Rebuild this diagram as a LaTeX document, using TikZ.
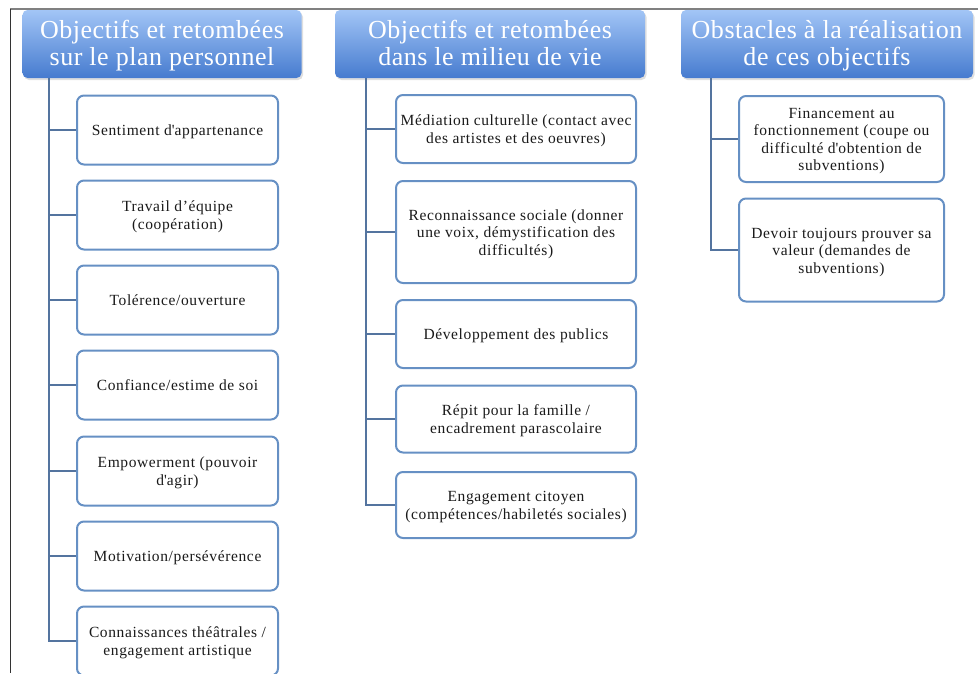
\documentclass[tikz,border=0pt]{standalone}
\usepackage{fontspec}
\setmainfont{Liberation Serif}
\newfontfamily\hdfont[LetterSpace=2]{Liberation Serif}
\newfontfamily\bxfont[LetterSpace=4]{Liberation Serif}
\usetikzlibrary{shadows}
\definecolor{hdtop}{HTML}{A2C5F6}
\definecolor{hdbot}{HTML}{467BCF}
\definecolor{boxline}{HTML}{6690C4}
\definecolor{conn}{HTML}{54749F}
\definecolor{txt}{HTML}{1A1A1A}
\newcommand{\apos}{\textquotesingle}
\newcommand{\cellt}[1]{\raisebox{0pt}[\dimexpr\height+4pt\relax][\depth]{\begin{tabular}{@{}c@{}}#1\end{tabular}}}
\newcommand{\hcell}[1]{\raisebox{0pt}[\dimexpr\height+6pt\relax][\depth]{\begin{tabular}{@{}c@{}}#1\end{tabular}}}
\tikzset{
 header/.style={rectangle, rounded corners=5pt, top color=hdtop, bottom color=hdbot, text=white,
   font=\hdfont\fontsize{26}{27}\selectfont, inner sep=0pt,
   drop shadow={opacity=0.25, shadow xshift=1.5pt, shadow yshift=-2pt}},
 item/.style={rectangle, rounded corners=7pt, draw=boxline, line width=2pt, fill=white, text=txt,
   font=\bxfont\fontsize{15.5}{17.5}\selectfont, inner sep=0pt},
 link/.style={draw=conn, line width=2pt},
}
\begin{document}
\begin{tikzpicture}[x=1pt,y=-1pt]
\useasboundingbox (0,0) rectangle (978,673);
\draw[gray, line width=1.5pt] (10,9) -- (978,9);
\draw[black!80, line width=0.8pt] (10,9) -- (10,673);

% headers
\node[header, minimum width=279pt, minimum height=68pt] (h1) at (162,44) {\hcell{Objectifs et retombées\\sur le plan personnel}};
\node[header, minimum width=310pt, minimum height=68pt] (h2) at (490,44) {\hcell{Objectifs et retombées\\dans le milieu de vie}};
\node[header, minimum width=292pt, minimum height=68pt] (h3) at (827,44) {\hcell{Obstacles à la réalisation\\de ces objectifs}};

\coordinate (t1) at (49,78);
\coordinate (t2) at (366,78);
\coordinate (t3) at (711,78);

% column 1
\foreach \n/\y/\t in {a1/130/{Sentiment d\apos appartenance},
                      a2/215/{Travail d’équipe\\(coopération)},
                      a3/300/{Tolérence/ouverture},
                      a4/385/{Confiance/estime de soi},
                      a5/471/{Empowerment (pouvoir\\d\apos agir)},
                      a6/556/{Motivation/persévérence},
                      a7/641/{Connaissances théâtrales /\\engagement artistique}}{
  \node[item, minimum width=201pt, minimum height=69pt] (\n) at (177.5,\y) {\cellt{\t}};
  \draw[link] (t1) |- (\n.west);
}

% column 2
\node[item, minimum width=240pt, minimum height=68pt] (b1) at (516,129) {\cellt{Médiation culturelle (contact avec\\des artistes et des oeuvres)}};
\node[item, minimum width=240pt, minimum height=102pt] (b2) at (516,232) {\cellt{Reconnaissance sociale (donner\\une voix, démystification des\\difficultés)}};
\node[item, minimum width=240pt, minimum height=68pt] (b3) at (516,334) {\cellt{Développement des publics}};
\node[item, minimum width=240pt, minimum height=67pt] (b4) at (516,419) {\cellt{Répit pour la famille /\\encadrement parascolaire}};
\node[item, minimum width=240pt, minimum height=66pt] (b5) at (516,505) {\cellt{Engagement citoyen\\(compétences/habiletés sociales)}};
\foreach \n in {b1,b2,b3,b4,b5}{\draw[link] (t2) |- (\n.west);}

% column 3
\node[item, minimum width=205pt, minimum height=86pt] (c1) at (841.5,139) {\cellt{Financement au\\fonctionnement (coupe ou\\difficulté d\apos obtention de\\subventions)}};
\node[item, minimum width=205pt, minimum height=103pt] (c2) at (841.5,250) {\cellt{Devoir toujours prouver sa\\valeur (demandes de\\subventions)}};
\foreach \n in {c1,c2}{\draw[link] (t3) |- (\n.west);}
\end{tikzpicture}
\end{document}
